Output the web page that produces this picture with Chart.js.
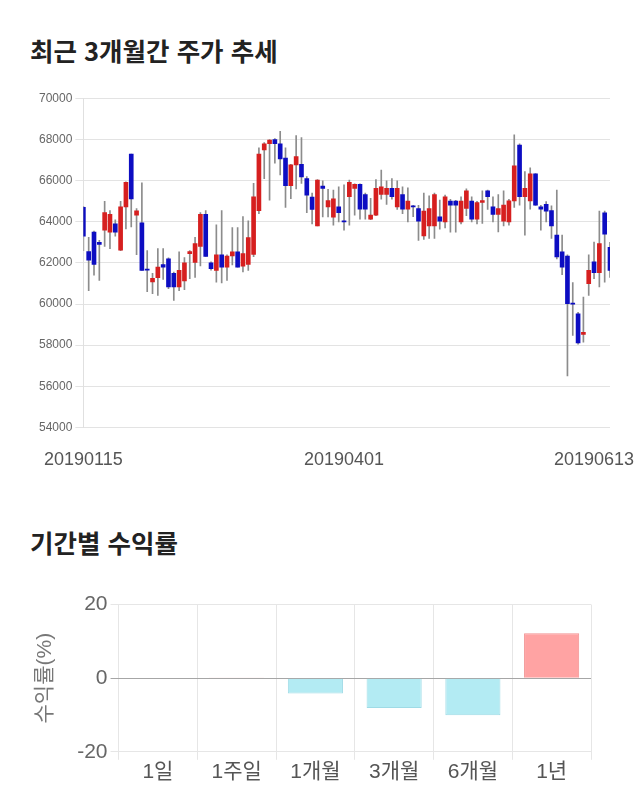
<!DOCTYPE html>
<html lang="ko">
<head>
<meta charset="utf-8">
<script src="https://cdn.jsdelivr.net/npm/chart.js@4.4.1/dist/chart.umd.min.js"></script>
<style>
  body { margin: 0; width: 640px; height: 810px; background: #fff; position: relative; overflow: hidden; font-family: 'Noto Sans CJK KR', sans-serif; }
  h2 { position: absolute; left: 30px; margin: 0; font-size: 25.5px; font-weight: bold; color: #222; line-height: 30px; }
  #t1 { top: 35px; }
  #t2 { top: 527px; }
  #box1 { position: absolute; left: 0; top: 80px; width: 640px; height: 413px; }
  #box2 { position: absolute; left: 0; top: 580px; width: 640px; height: 210px; }
</style>
</head>
<body>
<h2 id="t1">최근 3개월간 주가 추세</h2>
<div id="box1"><canvas id="grafico1"></canvas></div>
<h2 id="t2">기간별 수익률</h2>
<div id="box2"><canvas id="grafico2"></canvas></div>

<script>
// 일봉 (시가, 고가, 저가, 종가)
const opens = [
  64700, 62550, 63500, 63000, 63600, 63500, 63900, 62620, 64730, 67300,
  64330, 63950, 61700, 61080, 61280, 61920, 62200, 61500, 60830, 61120,
  62450, 62030, 62810, 64360, 62000, 61640, 62400, 61800, 62340, 62540,
  61840, 61930, 62420, 64540, 67500, 67800, 68000, 67800, 67100, 65760,
  66770, 66800, 66100, 65200, 63800, 65740, 64720, 64230, 64730, 64050,
  65220, 65630, 65820, 65330, 64130, 64330, 65330, 65330, 65630, 64730,
  65330, 64620, 64780, 64650, 63320, 63800, 63800, 64240, 64000, 65010,
  65010, 64000, 64650, 65010, 64130, 64940, 65510, 64730, 64360, 64030,
  64000, 65020, 67740, 65220, 65020, 66330, 64730, 64850, 64550, 63350,
  62540, 62340, 60050, 59530, 58520, 60990, 62050, 61530, 64440, 62760
]
const highs = [
  64750, 63250, 63550, 63100, 65000, 64550, 64100, 65000, 65950, 67300,
  64650, 65900, 62600, 61500, 62700, 62700, 62250, 61550, 62540, 62260,
  62600, 63250, 64450, 64550, 62050, 63850, 64550, 62400, 63720, 63720,
  64250, 64050, 65870, 67600, 67850, 68000, 68050, 68400, 67600, 66800,
  68200, 68100, 66200, 65400, 66050, 66000, 65580, 65540, 65700, 65800,
  66030, 65850, 65850, 65400, 65140, 66050, 66520, 66000, 66100, 66000,
  65700, 65660, 64800, 64800, 65400, 65270, 65400, 65060, 65300, 65100,
  65050, 65220, 65600, 65220, 65000, 65510, 65550, 65220, 65330, 65510,
  65100, 68230, 67800, 66440, 66630, 66350, 64800, 64980, 64780, 65540,
  63350, 62400, 61040, 59600, 60340, 62400, 63020, 64520, 64520, 63000
]
const lows = [
  62600, 60650, 61400, 61150, 62800, 62700, 63300, 62600, 63650, 63750,
  62400, 61640, 60600, 60500, 60420, 61200, 60750, 60180, 60650, 60700,
  61230, 61300, 61850, 62320, 61650, 61070, 61030, 61150, 61900, 61800,
  61560, 61640, 62300, 64400, 66100, 65050, 66850, 66280, 64700, 65130,
  65600, 65870, 64440, 63900, 63800, 64240, 64240, 63840, 64000, 63600,
  63840, 64330, 64130, 64130, 64100, 64300, 65100, 64850, 65100, 64600,
  64400, 64000, 64250, 63100, 63150, 63190, 63190, 63640, 63700, 63500,
  63500, 63900, 64300, 64000, 63900, 63920, 64600, 64000, 63510, 63800,
  63840, 64700, 64810, 63350, 64620, 64800, 63590, 64000, 63190, 62200,
  61430, 56500, 58470, 58050, 58150, 60420, 61230, 60830, 61070, 61300
]
const closes = [
  63300, 62130, 61930, 62900, 64450, 64370, 63500, 64730, 65920, 65120,
  64540, 61640, 61650, 61250, 61800, 61800, 60830, 60830, 61640, 62000,
  62550, 62940, 64360, 62320, 61720, 62400, 61800, 62330, 62540, 61800,
  62460, 63240, 65220, 67300, 67800, 67980, 67800, 67060, 65760, 66770,
  67180, 66180, 65300, 64600, 66030, 65630, 65040, 65120, 64450, 64000,
  65920, 65820, 64620, 64620, 64330, 65630, 65700, 65630, 65220, 65630,
  64620, 65010, 64730, 64030, 64520, 64650, 65330, 64030, 65220, 64810,
  64810, 65010, 65510, 64130, 64940, 65040, 65220, 64360, 64650, 64810,
  65020, 66730, 65220, 65630, 66330, 64810, 64620, 64520, 63800, 62290,
  61800, 60020, 60000, 58110, 58630, 61640, 61530, 62940, 63400, 61640
]
// x축에 보이는 날짜 (위치 = 봉 번호)
const fechaIdx = [0, 49, 96]
const fechaTxt = ['20190115', '20190401', '20190613']

// 기간별 수익률
const periodos = ['1일', '1주일', '1개월', '3개월', '6개월', '1년']
const rendimientos = [0, 0.2, -4.2, -8.1, -10.1, 12.2]

Chart.defaults.font.family = "'Liberation Sans', 'Noto Sans CJK KR', sans-serif"
Chart.defaults.animation = false
Chart.defaults.plugins.legend.display = false
Chart.defaults.plugins.tooltip.enabled = false

const etiquetas = opens.map((_, i) => {
  const k = fechaIdx.indexOf(i)
  return k >= 0 ? fechaTxt[k] : ''
})
const colorVela = ctx => closes[ctx.dataIndex] >= opens[ctx.dataIndex] ? '#d61f1f' : '#0d0dc2'

new Chart(document.querySelector('#grafico1'), {
  type: 'bar',
  data: {
    labels: etiquetas,
    datasets: [
      {
        data: opens.map((o, i) => [o, closes[i]]),
        backgroundColor: colorVela,
        barThickness: 4,
        grouped: false,
        order: 0
      },
      {
        data: lows.map((l, i) => [l, highs[i]]),
        backgroundColor: '#8c8c8c',
        barThickness: 1,
        grouped: false,
        order: 1
      }
    ]
  },
  options: {
    responsive: true,
    maintainAspectRatio: false,
    layout: { padding: { left: 36, right: 30, top: 18.5, bottom: 0 } },
    scales: {
      x: {
        offset: false,
        grid: { display: false, drawTicks: false },
        border: { display: false },
        ticks: {
          autoSkip: false, maxRotation: 0, minRotation: 0, padding: 22,
          color: '#555', font: { size: 18 }
        }
      },
      y: {
        min: 54000,
        max: 70000,
        ticks: { stepSize: 2000, color: '#666', font: { size: 12 }, callback: v => v },
        grid: { color: '#e3e3e3', tickLength: 8 },
        border: { display: true, color: '#e0e0e0' }
      }
    }
  }
})

new Chart(document.querySelector('#grafico2'), {
  type: 'bar',
  data: {
    labels: periodos,
    datasets: [{
      data: rendimientos,
      backgroundColor: rendimientos.map(v => v >= 0 ? '#ffa3a3' : '#b3ebf3'),
      borderColor: rendimientos.map(v => v >= 0 ? '#f29191' : '#9fdbe6'),
      borderWidth: 1,
      categoryPercentage: 1,
      barPercentage: 0.7
    }]
  },
  options: {
    responsive: true,
    maintainAspectRatio: false,
    layout: { padding: { left: 27, right: 49, top: 24.5, bottom: 5 } },
    scales: {
      x: {
        grid: {
          color: ctx => ctx.index === periodos.length ? 'rgba(0,0,0,0)' : '#e6e6e6',
          tickLength: 8
        },
        border: { display: false },
        ticks: { color: '#555', font: { size: 21 }, padding: 0 }
      },
      y: {
        min: -20,
        max: 20,
        ticks: { stepSize: 20, color: '#666', font: { size: 21 }, callback: v => v },
        grid: { color: ctx => ctx.tick && ctx.tick.value === 0 ? '#a6a6a6' : '#e6e6e6', tickLength: 8 },
        border: { display: false },
        title: {
          display: true,
          text: '수익률(%)',
          color: '#777',
          font: { size: 21 },
          padding: { top: 6, bottom: 16 }
        }
      }
    }
  }
})
</script>
</body>
</html>
